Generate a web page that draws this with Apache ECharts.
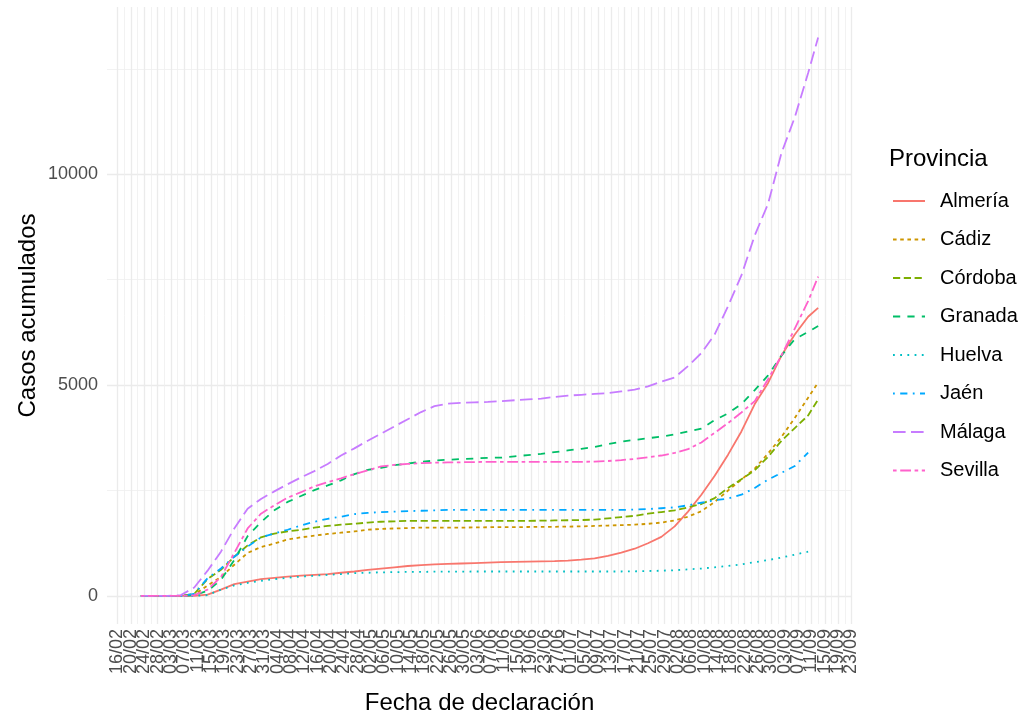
<!DOCTYPE html>
<html><head><meta charset="utf-8">
<script src="https://cdn.jsdelivr.net/npm/echarts@6/dist/echarts.min.js"></script>
<style>html,body{margin:0;padding:0;background:#fff}#c{width:1021px;height:717px}</style>
</head><body><div id="c"></div>
<script>
// ---- data ----
const provinces = ['Almería','Cádiz','Córdoba','Granada','Huelva','Jaén','Málaga','Sevilla'];
const colors = ['#F8766D','#CD9600','#7CAE00','#00BE67','#00BFC4','#00A9FF','#C77CFF','#FF61CC'];
// x tick labels, one every 4 days starting 16/02
const tickLabels = ['16/02','20/02','24/02','28/02','03/03','07/03','11/03','15/03','19/03','23/03','27/03','31/03',
  '04/04','08/04','12/04','16/04','20/04','24/04','28/04','02/05','06/05','10/05','14/05','18/05','22/05','26/05','30/05',
  '03/06','07/06','11/06','15/06','19/06','23/06','27/06','01/07','05/07','09/07','13/07','17/07','21/07','25/07','29/07',
  '02/08','06/08','10/08','14/08','18/08','22/08','26/08','30/08','03/09','07/09','11/09','15/09','19/09','23/09'];
const yTickValues = [0, 5000, 10000];
const yMinorValues = [2500, 7500, 12500];
// sample days (days after 16/02)
const sampleDays = [7,11,15,19,23,27,31,35,39,43,47,51,55,59,63,67,71,75,79,83,87,91,95,99,103,107,111,115,119,123,127,131,135,139,143,147,151,155,159,163,167,171,175,179,183,187,191,195,199,203,207,210];
const almeria = [0,0,0,0,0,30,150,280,340,400,430,460,480,500,520,550,580,620,650,680,710,730,750,760,770,780,790,800,810,815,820,825,840,860,890,950,1030,1120,1250,1400,1650,2000,2400,2850,3350,3900,4550,5050,5700,6200,6620,6830];
const cadiz = [0,0,0,0,30,250,450,740,1020,1160,1240,1340,1390,1430,1470,1500,1530,1570,1590,1600,1610,1620,1620,1620,1620,1625,1630,1630,1630,1635,1640,1640,1645,1650,1660,1670,1680,1690,1710,1740,1790,1880,2010,2230,2500,2760,3020,3380,3770,4220,4700,5060];
const cordoba = [0,0,0,0,50,400,620,930,1200,1390,1480,1530,1570,1620,1660,1690,1710,1740,1760,1770,1780,1780,1780,1780,1780,1780,1780,1780,1780,1780,1785,1790,1795,1800,1810,1840,1870,1900,1950,1990,2030,2100,2180,2320,2560,2770,2980,3300,3680,3980,4280,4660];
const granada = [0,0,0,0,20,120,380,850,1420,1750,2030,2230,2370,2510,2620,2740,2890,2990,3040,3100,3140,3180,3210,3230,3245,3260,3275,3280,3310,3340,3370,3410,3450,3490,3530,3600,3660,3700,3740,3780,3830,3900,3970,4170,4330,4550,4880,5230,5700,6090,6260,6400];
const huelva = [0,0,0,0,0,20,150,250,310,360,400,430,460,480,500,520,540,550,560,565,570,572,575,577,578,580,580,580,580,580,580,580,580,580,580,580,580,585,590,600,610,630,650,680,710,750,800,850,910,980,1050,null];
const jaen = [0,0,0,0,50,420,650,930,1170,1390,1480,1570,1670,1760,1830,1880,1940,1970,1990,2000,2010,2020,2030,2040,2040,2040,2040,2040,2040,2040,2040,2040,2040,2040,2040,2040,2040,2050,2060,2080,2100,2150,2210,2270,2310,2400,2560,2760,2920,3080,3400,null];
const malaga = [0,0,0,20,200,600,1050,1600,2070,2300,2480,2650,2810,2960,3130,3330,3500,3680,3850,4020,4190,4360,4500,4560,4580,4590,4600,4620,4640,4660,4680,4720,4750,4770,4790,4810,4850,4890,4970,5080,5180,5450,5760,6200,6870,7600,8550,9300,10500,11350,12400,13240];
const sevilla = [0,0,0,0,20,150,450,1020,1600,1950,2150,2330,2460,2600,2700,2790,2890,2980,3070,3110,3130,3150,3160,3165,3170,3175,3180,3180,3180,3180,3180,3180,3180,3180,3185,3200,3220,3250,3290,3330,3390,3480,3640,3870,4100,4350,4620,5140,5700,6340,6990,7570];
const seriesValues = [almeria, cadiz, cordoba, granada, huelva, jaen, malaga, sevilla];

// ---- style ----
const LW = 1.8;
const dashUnits = ['solid',[2,2],[4,2],[4,4],[1,3],[1,3,4,3],[7,3],[2,2,6,2]];
const FONT = "'Liberation Sans', Arial, Helvetica, sans-serif";
const X_MIN = -3.15, X_MAX = 220.15, Y_MIN = -665, Y_MAX = 13965;
const majorX = tickLabels.map((_, i) => i * 4);
const minorX = tickLabels.slice(0, -1).map((_, i) => i * 4 + 2);
const evenX = majorX.filter((_, i) => i % 2 === 0);
const oddX = majorX.filter((_, i) => i % 2 === 1);
const xLabelStyle = { rotate: 90, margin: 5, fontSize: 18, color: '#4D4D4D', fontFamily: FONT,
  showMinLabel: true, showMaxLabel: true, hideOverlap: false,
  formatter: v => tickLabels[Math.round(v / 4)] };

const chart = echarts.init(document.getElementById('c'));
chart.setOption({
  animation: false,
  backgroundColor: '#ffffff',
  textStyle: { fontFamily: FONT },
  title: { text: 'Provincia', left: 889, top: 147, padding: 0, textStyle: { fontSize: 24, fontWeight: 'normal', color: '#000', fontFamily: FONT } },
  legend: {
    data: provinces, orient: 'vertical', left: 892, top: 191, padding: 0,
    itemWidth: 32, itemHeight: 14, itemGap: 18.5,
    itemStyle: { opacity: 0, borderWidth: 0 },
    textStyle: { fontSize: 20, color: '#000', fontFamily: FONT, padding: [0, 0, 0, 10] },
    selectedMode: false
  },
  grid: { left: 107, right: 169, top: 7, bottom: 93, containLabel: false, outerBoundsMode: 'none' },
  xAxis: [{
    type: 'value', min: X_MIN, max: X_MAX, position: 'bottom',
    name: 'Fecha de declaración', nameLocation: 'middle', nameGap: 67, nameMoveOverlap: false,
    nameTextStyle: { fontSize: 24, color: '#000', fontFamily: FONT },
    axisLine: { show: false },
    axisTick: { show: false, customValues: majorX },
    axisLabel: Object.assign({ customValues: evenX }, xLabelStyle),
    splitLine: { show: true, lineStyle: { color: '#EBEBEB', width: 1.3 } }
  }, {
    type: 'value', min: X_MIN, max: X_MAX, position: 'bottom',
    axisLine: { show: false },
    axisTick: { show: false, customValues: minorX },
    axisLabel: Object.assign({ customValues: oddX }, xLabelStyle),
    splitLine: { show: true, lineStyle: { color: '#EFEFEF', width: 0.8 } }
  }],
  yAxis: [{
    type: 'value', min: Y_MIN, max: Y_MAX,
    name: 'Casos acumulados', nameLocation: 'middle', nameGap: 67, nameMoveOverlap: false,
    nameTextStyle: { fontSize: 24, color: '#000', fontFamily: FONT },
    axisLine: { show: false },
    axisTick: { show: false, customValues: yTickValues },
    axisLabel: { customValues: yTickValues, margin: 9, fontSize: 18, color: '#4D4D4D', fontFamily: FONT,
      formatter: v => String(v) },
    splitLine: { show: true, lineStyle: { color: '#EBEBEB', width: 1.3 } }
  }, {
    type: 'value', min: Y_MIN, max: Y_MAX, position: 'left',
    axisLine: { show: false }, axisLabel: { show: false },
    axisTick: { show: false, customValues: yMinorValues },
    splitLine: { show: true, lineStyle: { color: '#EFEFEF', width: 0.8 } }
  }],
  series: provinces.map((p, i) => ({
    name: p, type: 'line', xAxisIndex: 0, yAxisIndex: 0,
    symbol: 'none', showSymbol: false, smooth: false,
    data: sampleDays.map((d, k) => [d, seriesValues[i][k]]).filter(pt => pt[1] !== null),
    lineStyle: { color: colors[i], width: LW, type: dashUnits[i] === 'solid' ? 'solid' : dashUnits[i].map(u => u * LW) },
    itemStyle: { color: colors[i] },
    emphasis: { disabled: true }
  }))
});
</script></body></html>
